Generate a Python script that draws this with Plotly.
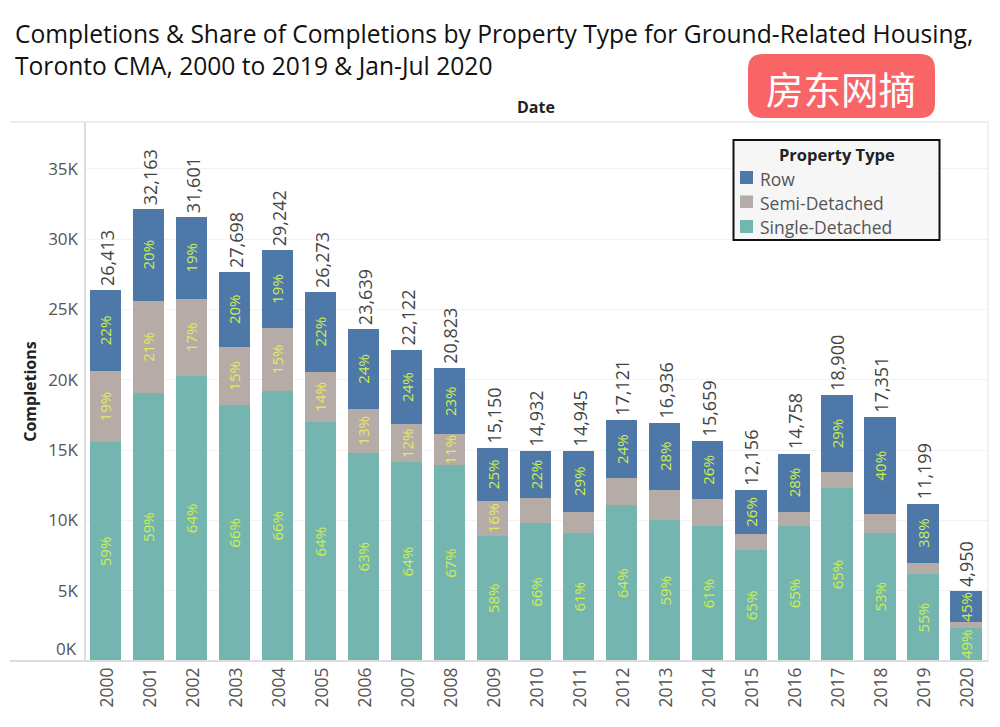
import plotly.graph_objects as go

years = [str(y) for y in range(2000, 2021)]
totals = [26413, 32163, 31601, 27698, 29242, 26273, 23639, 22122, 20823, 15150, 14932,
          14945, 17121, 16936, 15659, 12156, 14758, 18900, 17351, 11199, 4950]
single = [15584, 19040, 20290, 18230, 19230, 16980, 14820, 14130, 13940, 8910, 9810,
          9130, 11070, 10000, 9600, 7900, 9600, 12300, 9130, 6170, 2380]
semi = [5018, 6590, 5460, 4100, 4450, 3600, 3100, 2700, 2180, 2490, 1780,
        1490, 1950, 2180, 1920, 1150, 1020, 1160, 1300, 820, 370]
row = [5811, 6533, 5851, 5368, 5562, 5693, 5719, 5292, 4703, 3750, 3342,
       4325, 4101, 4756, 4139, 3106, 4138, 5440, 6921, 4209, 2200]
row_pct = [22, 20, 19, 20, 19, 22, 24, 24, 23, 25, 22, 29, 24, 28, 26, 26, 28, 29, 40, 38, 45]
semi_pct = [19, 21, 17, 15, 15, 14, 13, 12, 11, 16, None, None, None, None, None, None, None,
            None, None, None, None]
single_pct = [59, 59, 64, 66, 66, 64, 63, 64, 67, 58, 66, 61, 64, 59, 61, 65, 65, 65, 53, 55, 49]
y_ticks = [5000, 10000, 15000, 20000, 25000, 30000, 35000]
y_labels = ["5K", "10K", "15K", "20K", "25K", "30K", "35K"]

BLUE, TAUPE, TEAL = "#4E78A8", "#B6ACA7", "#75B5AF"
FONT = "Open Sans"
W, H, L, R, T, B = 1000, 727, 85, 988, 122, 661


def px(x):
    return (x - L) / (R - L)


def py(y):
    return (B - y) / (B - T)


def pct(values):
    return ["" if v is None else f"{v}%" for v in values]


fig = go.Figure()
for name, vals, labels, color, tcolor in [
    ("Single-Detached", single, single_pct, TEAL, "#CDEF4E"),
    ("Semi-Detached", semi, semi_pct, TAUPE, "#E9E85A"),
    ("Row", row, row_pct, BLUE, "#CDEF4E"),
]:
    fig.add_trace(go.Bar(
        x=years, y=vals, name=name, marker=dict(color=color, line_width=0),
        text=pct(labels), textposition="inside", insidetextanchor="middle",
        textangle=-90, constraintext="none", cliponaxis=False,
        textfont=dict(family=FONT, size=15, color=tcolor),
        hovertemplate="%{x}<br>" + name + ": %{y:,}<extra></extra>",
    ))

annotations = []
for i, tot in enumerate(totals):
    annotations.append(dict(x=i, y=tot, xref="x", yref="y", text=f"{tot:,}", textangle=-90,
                            showarrow=False, yanchor="bottom", xanchor="center", yshift=2, xshift=1,
                            font=dict(family=FONT, size=18, color="#444444")))


def note(x, y, text, size, color, bold=False, anchor="center", fam=FONT):
    annotations.append(dict(x=px(x), y=py(y), xref="paper", yref="paper", text=f"<b>{text}</b>" if bold else text,
                            showarrow=False, xanchor=anchor, yanchor="middle",
                            font=dict(family=fam, size=size, color=color)))


annotations.append(dict(x=0, xref="paper", y=0, yref="y", text="0K", showarrow=False, xanchor="right",
                        yanchor="middle", xshift=-6, yshift=13, font=dict(family=FONT, size=17, color="#555555")))
note(536, 107, "Date", 16, "#222222", bold=True)
note(841, 87, "房东网摘", 37.5, "#FFFFFF", fam="Noto Sans CJK SC")
note(837, 154, "Property Type", 16.5, "#222222", bold=True)
for label, yy in [("Row", 178.5), ("Semi-Detached", 202.5), ("Single-Detached", 227)]:
    note(757.5, yy, label, 17.5, "#555555", anchor="left")

shapes = []


def line(x0, y0, x1, y1, color, width):
    shapes.append(dict(type="line", xref="paper", yref="paper", x0=px(x0), y0=py(y0), x1=px(x1), y1=py(y1),
                       line=dict(color=color, width=width), layer="above"))


def rect(x0, y0, x1, y1, fill, lc=None, lw=0):
    shapes.append(dict(type="rect", xref="paper", yref="paper", x0=px(x0), y0=py(y0), x1=px(x1), y1=py(y1),
                       fillcolor=fill, line=dict(color=lc, width=lw) if lc else dict(width=0), layer="above"))


line(10, 122, 988, 122, "#DDDDDD", 1)
line(988, 122, 988, 661, "#E4E4E4", 1)
line(85, 122, 85, 661, "#DDDDDD", 2)
line(10, 661, 988, 661, "#DDDDDD", 2)

# rounded watermark badge
x0, x1, y0, y1, r = 748, 935, 54, 118, 15
path = (f"M {px(x0 + r)} {py(y0)} L {px(x1 - r)} {py(y0)} Q {px(x1)} {py(y0)} {px(x1)} {py(y0 + r)} "
        f"L {px(x1)} {py(y1 - r)} Q {px(x1)} {py(y1)} {px(x1 - r)} {py(y1)} "
        f"L {px(x0 + r)} {py(y1)} Q {px(x0)} {py(y1)} {px(x0)} {py(y1 - r)} "
        f"L {px(x0)} {py(y0 + r)} Q {px(x0)} {py(y0)} {px(x0 + r)} {py(y0)} Z")
shapes.append(dict(type="path", xref="paper", yref="paper", path=path, fillcolor="#F96567",
                   line=dict(width=0), layer="above"))

# legend box
rect(733.5, 140, 939.5, 240, "#F7F6F6", "#111111", 2)
rect(740, 171, 753, 184, BLUE)
rect(740, 195.5, 753, 208, TAUPE)
rect(740, 220, 753, 233, TEAL)

fig.update_layout(
    width=W, height=H, barmode="stack", bargap=0.26, showlegend=False,
    margin=dict(l=L, r=W - R, t=T, b=H - B, autoexpand=False),
    paper_bgcolor="white", plot_bgcolor="white",
    title=dict(text="Completions &amp; Share of Completions by Property Type for Ground-Related Housing,<br>"
                    "Toronto CMA, 2000 to 2019 &amp; Jan-Jul 2020",
               x=15 / W, xanchor="left", y=1 - 43 / H, yanchor="top",
               font=dict(family=FONT, size=24.6, color="#111111")),
    xaxis=dict(type="category", range=[-0.475, 20.52], tickangle=-90, showgrid=False, showline=False, ticks="",
               tickfont=dict(family=FONT, size=17.5, color="#555555"), ticklabelstandoff=2, ticklabelshift=2,
               automargin=False),
    yaxis=dict(range=[0, 38336], tickvals=y_ticks, ticktext=y_labels, showline=False, ticks="",
               zeroline=False, gridcolor="#F2F2F2", gridwidth=1,
               tickfont=dict(family=FONT, size=17, color="#555555"), ticklabelstandoff=6, automargin=False,
               title=dict(text="<b>Completions</b>", standoff=7,
                          font=dict(family=FONT, size=16, color="#222222"))),
    annotations=annotations, shapes=shapes,
)

fig.write_html("out.html", config=dict(displayModeBar=False), post_script="document.body.style.margin='0';")
